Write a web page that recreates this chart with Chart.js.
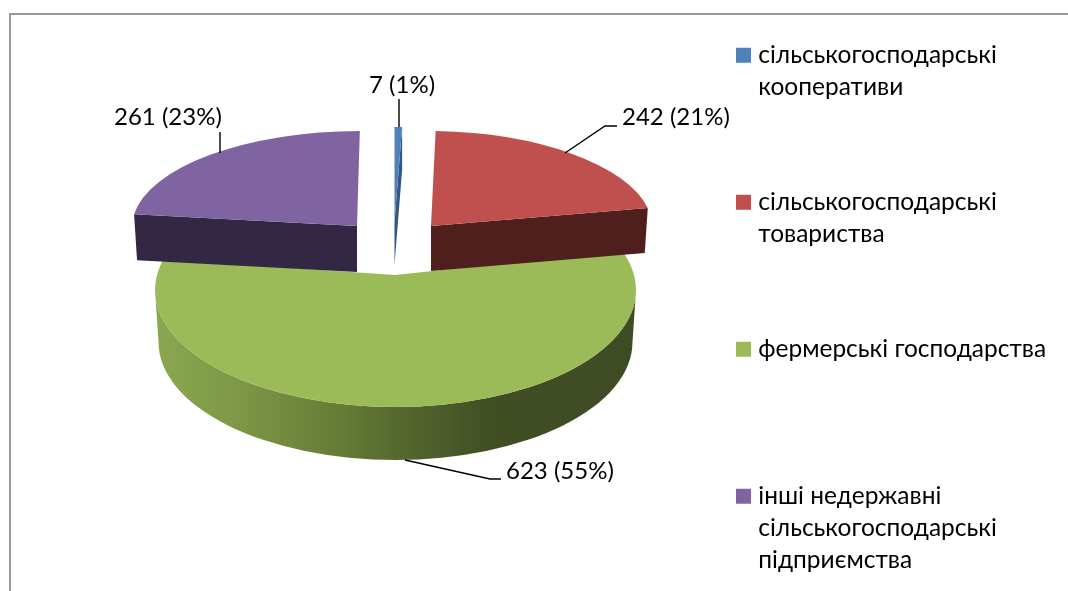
<!DOCTYPE html>
<html>
<head>
<meta charset="utf-8">
<title>Pie</title>
<script src="https://cdn.jsdelivr.net/npm/chart.js@4"></script>
<style>
    html, body { margin: 0; padding: 0; background: #fff; overflow: hidden; }
    #wrap { position: relative; width: 1068px; height: 591px; overflow: hidden; }
    #frame { position: absolute; left: 9px; top: 13px; right: -5px; bottom: -5px; border-left: 2px solid #999; border-top: 2px solid #999; }
    #pie { position: absolute; left: 0; top: 0; }
</style>
</head>
<body>
<div id="wrap">
    <canvas id="pie" width="1068" height="700"></canvas>
    <div id="frame"></div>
</div>
<script>
const categories = [
    ['сільськогосподарські', 'кооперативи'],
    ['сільськогосподарські', 'товариства'],
    ['фермерські господарства'],
    ['інші недержавні', 'сільськогосподарські', 'підприємства']
];
const values = [7, 242, 623, 261];
const percents = [1, 21, 55, 23];
const topColors = ['#4f81bd', '#c0504d', '#9bbb59', '#8064a2'];
const faceColors = ['#35577f', '#4f1f1e', null, '#332843'];

const FONT = 'Lato, "Noto Sans", sans-serif';

// where each exploded slice sits on the page (3d look, chart.js only knows flat pies)
const sliceLook = [
    { x: 394.5, y: 222, rx: 196, ry: 95, depth: 43, edge: 'endAngle', drift: 0, shear: 0 },
    { x: 431, y: 226, rx: 221.5, ry: 95, depth: 45, edge: 'endAngle', drift: -3, shear: 0.042 },
    { x: 395, y: 275, rx: 260, ry: 143, depth: 0, edge: null, drift: 0, shear: 0 },
    { x: 357, y: 226, rx: 225, ry: 95, depth: 46, edge: 'startAngle', drift: 3, shear: -0.03 }
];
const drawOrder = [2, 3, 1, 0];
// the big slice's rim is an ellipse lower than its tip (perspective), arc gets clipped to it
const greenRim = { x: 395.5, y: 290, rx: 240.5, ry: 117 };
const greenWall = { y: 342, rx: 237, ry: 118 };

const labelLook = [
    { x: 369, y: 85, line: [[399, 127], [399, 99]] },
    { x: 622, y: 117, line: [[565, 153], [605, 126], [617, 126]] },
    { x: 506, y: 471, line: [[405, 460], [490, 479], [501, 479]] },
    { x: 114, y: 117, line: [[220, 153], [220, 132]] }
];

function drawGreenWall(ctx) {
    const g = greenRim;
    const grad = ctx.createLinearGradient(g.x - g.rx, 0, g.x + g.rx, 0);
    grad.addColorStop(0, '#8ba750');
    grad.addColorStop(0.15, '#7f9a48');
    grad.addColorStop(0.35, '#6a8139');
    grad.addColorStop(0.5, '#566a2f');
    grad.addColorStop(0.7, '#414d23');
    grad.addColorStop(1, '#3f4b22');
    ctx.fillStyle = grad;
    ctx.beginPath();
    ctx.ellipse(g.x, g.y, g.rx, g.ry, 0, 0, Math.PI);
    ctx.ellipse(g.x, greenWall.y, greenWall.rx, greenWall.ry, 0, Math.PI, 0, true);
    ctx.closePath();
    ctx.fill();
}

function drawCutFace(ctx, arc, g, color) {
    const a = arc[g.edge];
    const ox = g.x + g.rx * Math.cos(a) + g.shear * g.ry * Math.sin(a);
    const oy = g.y + g.ry * Math.sin(a);
    ctx.fillStyle = color;
    ctx.beginPath();
    ctx.moveTo(g.x, g.y);
    ctx.lineTo(ox, oy);
    ctx.lineTo(ox + g.drift, oy + g.depth);
    ctx.lineTo(g.x, g.y + g.depth);
    ctx.closePath();
    ctx.fill();
}

const pie3d = {
    id: 'pie3d',
    beforeDraw(chart) {
        // legend box is pushed by hand to where the original had it
        const lg = chart.legend;
        const dx = 690 - lg.left;
        const dy = -8 - lg.top;
        lg.left += dx; lg.right += dx;
        lg.top += dy; lg.bottom += dy;
    },
    beforeDatasetDraw() {
        return false;
    },
    afterDatasetsDraw(chart) {
        const ctx = chart.ctx;
        const arcs = chart.getDatasetMeta(0).data;
        drawOrder.forEach(function(i) {
            const arc = arcs[i];
            const g = sliceLook[i];
            if (i === 2) drawGreenWall(ctx);
            if (faceColors[i]) drawCutFace(ctx, arc, g, faceColors[i]);
            ctx.save();
            if (i === 2) {
                ctx.beginPath();
                ctx.ellipse(greenRim.x, greenRim.y, greenRim.rx, greenRim.ry, 0, 0, Math.PI * 2);
                ctx.clip();
            }
            ctx.translate(g.x, g.y);
            ctx.transform(1, 0, g.shear, 1, 0, 0);
            ctx.scale(g.rx / arc.outerRadius, g.ry / arc.outerRadius);
            ctx.translate(-arc.x, -arc.y);
            arc.draw(ctx);
            ctx.restore();
        });
        // data labels and leader lines
        ctx.save();
        ctx.font = '24px ' + FONT;
        ctx.textBaseline = 'middle';
        ctx.textAlign = 'left';
        ctx.fillStyle = '#000';
        ctx.strokeStyle = '#000';
        ctx.lineWidth = 1.4;
        values.forEach(function(v, i) {
            const l = labelLook[i];
            ctx.fillText(v + ' (' + percents[i] + '%)', l.x, l.y);
            ctx.beginPath();
            l.line.forEach(function(p, k) {
                if (k === 0) ctx.moveTo(p[0], p[1]); else ctx.lineTo(p[0], p[1]);
            });
            ctx.stroke();
        });
        ctx.restore();
    }
};

const pieConfig = {
    type: 'pie',
    data: {
        labels: categories,
        datasets: [{
            data: values,
            backgroundColor: topColors,
            borderWidth: 0,
            clip: false
        }]
    },
    options: {
        responsive: false,
        animation: false,
        plugins: {
            tooltip: { enabled: false },
            legend: {
                position: 'right',
                align: 'start',
                labels: {
                    color: '#000',
                    font: { family: FONT, size: 24.5, lineHeight: '32px' },
                    usePointStyle: true,
                    boxWidth: 5,
                    boxHeight: 15,
                    padding: 51,
                    generateLabels(chart) {
                        return categories.map(function(c, i) {
                            const lines = c.slice();
                            while (lines.length < 3) lines.push('');
                            return { text: lines, fillStyle: topColors[i], strokeStyle: topColors[i], lineWidth: 0, pointStyle: 'rect', index: i };
                        });
                    }
                }
            }
        }
    },
    plugins: [pie3d]
};

const pieCtx = document.getElementById('pie');
window.myPie = new Chart(pieCtx, pieConfig);
</script>
</body>
</html>
